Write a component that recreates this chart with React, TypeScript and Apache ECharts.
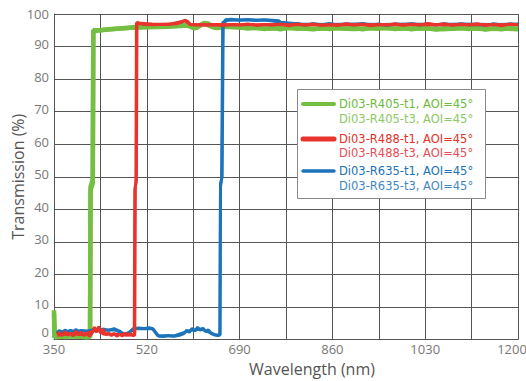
import React, { useEffect, useRef } from "react";
import * as echarts from "echarts";

const xTickLabels = [350, 520, 690, 860, 1030, 1200];
const yTickLabels = [0, 10, 20, 30, 40, 50, 60, 70, 80, 90, 100];

const legendNames = [
  ["Di03-R405-t1, AOI=45°", "Di03-R405-t3, AOI=45°"],
  ["Di03-R488-t1, AOI=45°", "Di03-R488-t3, AOI=45°"],
  ["Di03-R635-t1, AOI=45°", "Di03-R635-t3, AOI=45°"],
];

const r405t1 = [
  [350, 9], [350.5, 0.6], [352, 0.9], [360, 1.0], [370, 0.8], [380, 1.0], [390, 0.9], [400, 1.0], [410, 0.8], [416, 0.9],
  [417, 47], [421, 49], [422, 94.5], [425, 94.8], [435, 95.0], [450, 95.3], [465, 95.5], [480, 95.6], [495, 95.9], [510, 96.0],
  [530, 96.1], [550, 96.2], [570, 96.4], [585, 96.6], [594, 96.7], [600, 96.2], [606, 95.7], [612, 95.8], [618, 96.6], [625, 97.2],
  [632, 97.1], [638, 96.4], [644, 95.8], [650, 95.7], [658, 96.0], [665, 96.3], [675, 96.2], [690, 95.9], [705, 95.5], [720, 95.9],
  [735, 95.4], [750, 95.8], [765, 95.3], [780, 95.9], [795, 95.5], [810, 95.8], [825, 95.3], [840, 95.7], [855, 95.4], [870, 95.9],
  [885, 95.5], [900, 95.8], [915, 95.3], [930, 95.7], [945, 95.5], [960, 95.9], [975, 95.4], [990, 95.8], [1005, 95.3], [1020, 95.7],
  [1035, 95.6], [1050, 95.2], [1065, 95.7], [1080, 95.5], [1095, 95.9], [1110, 95.4], [1125, 95.8], [1140, 95.2], [1155, 95.6], [1170, 95.3],
  [1185, 95.8], [1200, 95.4],
];
const r405t3 = [
  [350, 8], [352, 0.7], [380, 1.1], [410, 0.7], [416, 0.8], [417, 46], [421, 48], [422, 95], [440, 95.1], [480, 95.7],
  [520, 95.9], [560, 96.1], [594, 96.5], [608, 95.6], [625, 97.0], [642, 95.9], [660, 96.1], [700, 95.8], [740, 95.5], [780, 95.7],
  [820, 95.4], [860, 95.6], [900, 95.4], [940, 95.7], [980, 95.5], [1020, 95.6], [1060, 95.3], [1100, 95.6], [1140, 95.4], [1180, 95.5],
  [1200, 95.3],
];

const r488t1 = [
  [356, 1.5], [360, 2.2], [365, 1.2], [370, 2.4], [375, 1.4], [380, 2.0], [385, 1.1], [390, 2.6], [395, 1.5], [400, 2.3],
  [405, 1.2], [410, 1.8], [415, 1.0], [420, 2.0], [424, 3.8], [428, 2.2], [432, 4.0], [436, 1.8], [440, 3.2], [445, 1.4],
  [450, 2.0], [455, 1.2], [460, 1.9], [465, 1.0], [470, 1.6], [475, 1.1], [480, 2.0], [485, 1.3], [490, 1.8], [495, 1.2],
  [498, 1.4], [499, 47], [501, 49], [502, 97.5], [506, 97.1], [515, 96.8], [530, 96.7], [545, 96.8], [560, 96.9], [575, 97.0],
  [585, 97.6], [590, 98.1], [595, 97.7], [600, 96.8], [615, 96.6], [630, 96.6], [645, 96.7], [660, 96.5], [675, 96.8], [690, 96.6],
  [705, 96.9], [720, 96.5], [735, 96.8], [750, 96.6], [765, 96.9], [780, 96.4], [795, 96.9], [810, 96.6], [825, 96.9], [840, 96.5],
  [855, 96.8], [870, 96.5], [885, 97.0], [900, 96.6], [915, 96.9], [930, 96.4], [945, 96.8], [960, 96.6], [975, 97.0], [990, 96.5],
  [1005, 96.9], [1020, 96.6], [1035, 97.1], [1050, 96.7], [1065, 97.0], [1080, 96.5], [1095, 96.9], [1110, 96.6], [1125, 97.0], [1140, 96.5],
  [1155, 96.8], [1170, 96.4], [1185, 96.9], [1200, 96.6],
];
const r488t3 = [
  [356, 1.3], [380, 1.8], [400, 1.5], [420, 2.4], [430, 3.3], [440, 1.7], [470, 1.5], [497, 1.3], [498, 46], [500, 48],
  [501, 97.2], [530, 96.9], [560, 96.8], [590, 97.9], [600, 96.7], [650, 96.8], [700, 96.7], [750, 96.8], [800, 96.7], [850, 96.6],
  [900, 96.8], [950, 96.7], [1000, 96.8], [1050, 96.6], [1100, 96.8], [1150, 96.7], [1200, 96.8],
];

const r635t1 = [
  [355, 2.0], [360, 2.8], [365, 1.8], [370, 3.0], [375, 2.2], [380, 2.9], [385, 2.0], [390, 3.1], [395, 2.4], [400, 2.8],
  [410, 2.5], [420, 2.9], [430, 2.6], [440, 3.2], [450, 2.8], [460, 3.3], [470, 2.6], [475, 2.0], [480, 1.4], [486, 1.6],
  [490, 2.6], [495, 3.3], [505, 3.5], [515, 3.4], [525, 3.6], [532, 3.2], [537, 2.0], [542, 1.0], [550, 0.9], [560, 1.2],
  [570, 1.0], [580, 1.3], [588, 1.8], [593, 2.9], [598, 2.2], [603, 3.4], [608, 2.6], [613, 3.8], [618, 2.8], [623, 3.5],
  [628, 2.4], [633, 3.0], [638, 1.8], [644, 1.4], [650, 1.2], [654, 1.5], [655, 48], [658, 50], [660, 97], [664, 98.2],
  [675, 98.4], [690, 98.1], [705, 98.3], [720, 98.0], [735, 98.2], [750, 98.1], [762, 97.9], [768, 97.1], [780, 96.8], [795, 97.1],
  [810, 96.6], [825, 97.0], [840, 96.7], [855, 97.1], [870, 96.6], [885, 96.9], [900, 96.7], [915, 97.1], [930, 96.6], [945, 96.9],
  [960, 96.5], [975, 96.9], [990, 96.7], [1005, 97.0], [1020, 96.6], [1035, 96.9], [1050, 96.6], [1065, 97.0], [1080, 96.6], [1095, 96.9],
  [1110, 96.7], [1125, 96.8], [1140, 96.5], [1155, 97.0], [1170, 96.6], [1185, 96.9], [1200, 96.7],
];
const r635t3 = [
  [356, 2.3], [380, 2.6], [420, 2.7], [460, 3.0], [480, 1.6], [500, 3.3], [530, 3.4], [540, 1.2], [570, 1.1], [600, 2.8],
  [620, 3.2], [645, 1.5], [654, 1.3], [655, 47], [657, 49], [659, 97.4], [670, 98.1], [700, 98.2], [740, 98.1], [765, 97.5],
  [800, 96.9], [850, 96.8], [900, 96.9], [950, 96.8], [1000, 96.9], [1050, 96.8], [1100, 96.9], [1150, 96.8], [1200, 96.9],
];

const FONT = "'Open Sans', sans-serif";
const LEGEND_FONT = "'DejaVu Sans', sans-serif";
const GREEN = "#74bf42";
const RED = "#e8342c";
const BLUE = "#1d74bb";
const textColors = [
  ["#6cbb3c", "#8cc865"],
  ["#e6302a", "#ea4d55"],
  ["#2072b8", "#4287c5"],
];
const lineColors = [GREEN, RED, BLUE];
const iconWidths = [4, 5, 3.5];
const legendRowY = [
  [104, 119],
  [139, 153],
  [171, 186],
];

export default function App() {
  const ref = useRef<HTMLDivElement>(null);
  useEffect(() => {
    if (!ref.current) return;
    const chart = echarts.init(ref.current, undefined, { renderer: "svg" });
    const mk = (name: string, data: number[][], color: string, width: number, z: number) => ({
      name,
      type: "line",
      data,
      showSymbol: false,
      symbol: "none",
      z,
      lineStyle: { color, width },
      itemStyle: { color },
      silent: true,
    });
    const legendGraphics: any[] = [
      {
        type: "rect",
        z: 10,
        shape: { x: 297.5, y: 89.5, width: 188, height: 109 },
        style: { fill: "#ffffff", stroke: "#8a8a8a", lineWidth: 1 },
      },
    ];
    legendNames.forEach((pair, i) => {
      legendGraphics.push({
        type: "line",
        z: 11,
        shape: { x1: 303, y1: legendRowY[i][0], x2: 334, y2: legendRowY[i][0] },
        style: { stroke: lineColors[i], lineWidth: iconWidths[i], lineCap: "round" },
      });
      pair.forEach((name, j) => {
        legendGraphics.push({
          type: "text",
          z: 11,
          x: 339,
          y: legendRowY[i][j],
          style: {
            text: name,
            fill: textColors[i][j],
            font: `11.5px ${LEGEND_FONT}`,
            textAlign: "left",
            textVerticalAlign: "middle",
          },
        });
      });
    });
    const yOffset = (v: number) => (v === 0 ? "o8" : v === 100 ? "o0" : "o2");
    const labelRich = {
      o0: { fontFamily: FONT, fontSize: 13, color: "#777" },
      o2: { fontFamily: FONT, fontSize: 13, color: "#777", padding: [0, 0, 5, 0] },
      o8: { fontFamily: FONT, fontSize: 13, color: "#777", padding: [0, 0, 16, 0] },
      last: { fontFamily: FONT, fontSize: 13, color: "#777", padding: [0, 12, 0, 0] },
      std: { fontFamily: FONT, fontSize: 13, color: "#777" },
    };
    chart.setOption({
      animation: false,
      backgroundColor: "#ffffff",
      grid: { left: 54, right: 8, top: 14, bottom: 41.5, outerBoundsMode: "none", containLabel: false },
      graphic: legendGraphics,
      xAxis: {
        type: "value",
        min: 350,
        max: 1200,
        interval: 85,
        name: "Wavelength (nm)",
        nameLocation: "middle",
        nameGap: 21,
        nameMoveOverlap: false,
        nameTextStyle: { fontFamily: FONT, fontSize: 16, color: "#555", padding: [0, 0, 0, 52] },
        axisLine: { show: true, lineStyle: { color: "#555", width: 1 } },
        axisTick: { show: false },
        axisLabel: {
          color: "#777",
          fontFamily: FONT,
          fontSize: 13,
          margin: 3,
          hideOverlap: false,
          formatter: (v: number) => {
            const r = Math.round(v);
            if (xTickLabels.indexOf(r) < 0) return "";
            return r === 1200 ? `{last|${r}}` : `{std|${r}}`;
          },
          rich: labelRich,
        },
        splitLine: { show: true, lineStyle: { color: "#555", width: 1 } },
      },
      yAxis: {
        type: "value",
        min: 0,
        max: 100,
        interval: 10,
        name: "Transmission (%)",
        nameLocation: "middle",
        nameGap: 28,
        nameMoveOverlap: false,
        nameTextStyle: { fontFamily: FONT, fontSize: 16, color: "#555" },
        axisLine: { show: true, lineStyle: { color: "#555", width: 1 } },
        axisTick: { show: false },
        axisLabel: {
          color: "#777",
          fontFamily: FONT,
          fontSize: 13,
          margin: 5,
          formatter: (v: number) => {
            const r = Math.round(v);
            return yTickLabels.indexOf(r) >= 0 ? `{${yOffset(r)}|${r}}` : "";
          },
          rich: labelRich,
        },
        splitLine: { show: true, lineStyle: { color: "#555", width: 1 } },
      },
      series: [
        mk(legendNames[0][0], r405t1, lineColors[0], 4.5, 2),
        mk(legendNames[0][1], r405t3, lineColors[0], 4.5, 2),
        mk(legendNames[2][0], r635t1, lineColors[2], 3, 3),
        mk(legendNames[2][1], r635t3, lineColors[2], 3, 3),
        mk(legendNames[1][0], r488t1, lineColors[1], 3, 4),
        mk(legendNames[1][1], r488t3, lineColors[1], 3, 4),
      ],
    });
    return () => chart.dispose();
  }, []);
  return <div ref={ref} style={{ width: 526, height: 381, position: "absolute", left: 0, top: 0 }} />;
}
